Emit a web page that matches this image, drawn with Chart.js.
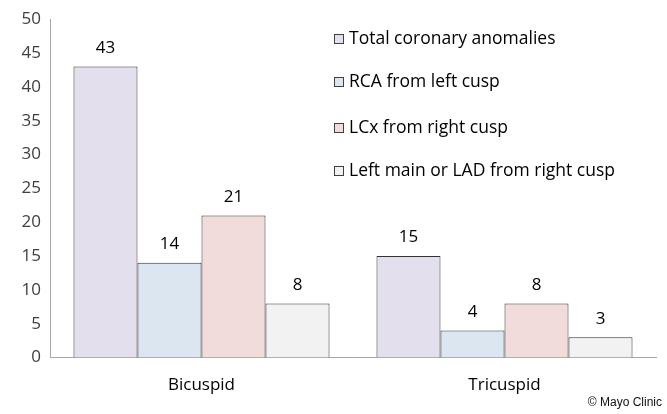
<!DOCTYPE html>
<html>
<head>
<meta charset="utf-8">
<script src="https://cdn.jsdelivr.net/npm/chart.js@4/dist/chart.umd.min.js"></script>
<style>
  html, body { margin: 0; padding: 0; background: #fff; }
  #wrap { position: relative; width: 667px; height: 414px; }
  #credit { position: absolute; right: 5px; top: 395px; font-family: "Liberation Sans", Arial, sans-serif; font-size: 12px; color: #111; }
</style>
</head>
<body>
<div id="wrap">
  <canvas id="c" width="667" height="414"></canvas>
  <div id="credit">© Mayo Clinic</div>
</div>
<script>
const categories = ["Bicuspid", "Tricuspid"];
const seriesNames = ["Total coronary anomalies", "RCA from left cusp", "LCx from right cusp", "Left main or LAD from right cusp"];
const totalAnomalies = [43, 15];
const rcaLeftCusp = [14, 4];
const lcxRightCusp = [21, 8];
const leftMainLad = [8, 3];
const yTicks = [0, 5, 10, 15, 20, 25, 30, 35, 40, 45, 50];

const colors = ["#E4DFEC", "#DCE6F1", "#F2DCDB", "#F2F2F2"];
const seriesValues = [totalAnomalies, rcaLeftCusp, lcxRightCusp, leftMainLad];
const FONT = "'Open Sans', Lato, sans-serif";

const valueLabels = {
  id: "valueLabels",
  afterDatasetsDraw(chart) {
    const ctx = chart.ctx;
    ctx.save();
    ctx.font = "17px " + FONT;
    ctx.fillStyle = "#000";
    ctx.textAlign = "center";
    ctx.textBaseline = "bottom";
    chart.data.datasets.forEach((ds, i) => {
      chart.getDatasetMeta(i).data.forEach((bar, j) => {
        ctx.fillText(String(ds.data[j]), bar.x, bar.y - 10);
      });
    });
    ctx.restore();
  }
};

const insideLegend = {
  id: "insideLegend",
  afterDraw(chart) {
    const ctx = chart.ctx;
    ctx.save();
    ctx.font = "17.5px " + FONT;
    ctx.textAlign = "left";
    ctx.textBaseline = "middle";
    const x0 = 334, ys = [39, 82, 128, 171];
    chart.data.datasets.forEach((ds, i) => {
      const y = ys[i];
      ctx.fillStyle = ds.backgroundColor;
      ctx.fillRect(x0 + 0.5, y - 4.5, 9, 9);
      ctx.strokeStyle = "#404040";
      ctx.lineWidth = 1;
      ctx.strokeRect(x0 + 0.5, y - 4.5, 9, 9);
      ctx.fillStyle = "#000";
      ctx.fillText(ds.label, x0 + 15, y);
    });
    ctx.restore();
  }
};

new Chart(document.getElementById("c"), {
  type: "bar",
  data: {
    labels: categories,
    datasets: seriesNames.map((name, i) => ({
      label: name,
      data: seriesValues[i],
      backgroundColor: colors[i],
      borderColor: "#333333",
      borderWidth: 1,
      barPercentage: 1.0,
      categoryPercentage: 0.845
    }))
  },
  options: {
    responsive: false,
    animation: false,
    layout: { padding: { left: 6, right: 11, top: 7, bottom: 2 } },
    plugins: { legend: { display: false }, tooltip: { enabled: false } },
    scales: {
      x: {
        grid: { display: false, drawTicks: false },
        border: { color: "#A6A6A6", width: 1 },
        ticks: { color: "#000", font: { family: FONT, size: 17 }, padding: 17 }
      },
      y: {
        min: 0, max: 50,
        afterBuildTicks(axis) { axis.ticks = yTicks.map(v => ({ value: v })); },
        afterFit(axis) { axis.width = 44; },
        grid: { display: false, drawTicks: false },
        border: { color: "#A6A6A6", width: 1 },
        ticks: { color: "#404040", font: { family: FONT, size: 17 }, padding: 9 }
      }
    }
  },
  plugins: [valueLabels, insideLegend]
});
</script>
</body>
</html>
